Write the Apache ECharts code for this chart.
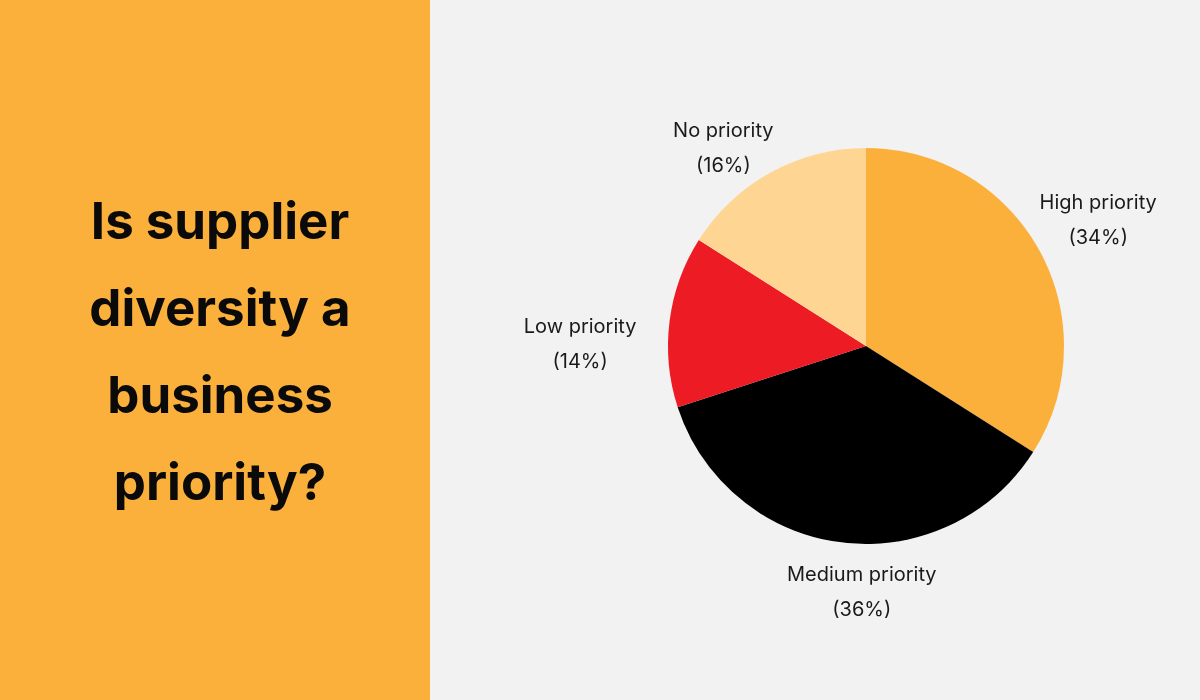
<!DOCTYPE html>
<html>
<head>
    <meta charset="utf-8">
    <title>Supplier diversity</title>
    <script src="https://cdn.jsdelivr.net/npm/echarts@6/dist/echarts.min.js"></script>
    <style>
        html, body { margin: 0; padding: 0; background: #f2f2f2; }
    </style>
</head>
<body>
<div id="main" style="width: 1200px;height:700px;"></div>
<script type="text/javascript">
    // data
    var categories = ['High priority', 'Medium priority', 'Low priority', 'No priority'];
    var shares = [34, 36, 14, 16];
    var colors = ['#fbb03b', '#000000', '#ed1c24', '#ffd594'];
    // nudges so the labels sit where the original has them
    var labelOffsets = [[0, 2], [29, -16], [-23, 32], [-15, 35]];

    var myChart = echarts.init(document.getElementById('main'));

    var pieData = [];
    var labelData = [];
    for (var i = 0; i < categories.length; i++) {
        pieData.push({
            name: categories[i],
            value: shares[i],
            itemStyle: { color: colors[i] }
        });
        labelData.push({
            name: categories[i],
            value: shares[i],
            label: { offset: labelOffsets[i] }
        });
    }

    var option = {
        backgroundColor: '#f2f2f2',
        animation: false,
        graphic: [{
            type: 'rect',
            left: 0,
            top: 0,
            z: -1,
            shape: { width: 430, height: 700 },
            style: { fill: '#fbb03b' }
        }],
        title: {
            text: 'Is supplier\ndiversity a\nbusiness\npriority?',
            left: 215,
            top: 175,
            textAlign: 'center',
            textStyle: {
                fontFamily: 'Inter',
                fontWeight: 'bold',
                fontSize: 51,
                lineHeight: 87,
                color: '#0a0a0a'
            }
        },
        series: [{
            name: 'priority',
            type: 'pie',
            center: [866, 346],
            radius: 198,
            startAngle: 90,
            clockwise: true,
            label: { show: false },
            labelLine: { show: false },
            emphasis: { disabled: true },
            data: pieData
        }, {
            // transparent ring, only carries the labels
            name: 'labels',
            type: 'pie',
            center: [866, 346],
            radius: [250, 274],
            startAngle: 90,
            clockwise: true,
            silent: true,
            itemStyle: { color: 'rgba(0,0,0,0)' },
            label: {
                show: true,
                position: 'inside',
                formatter: '{b}\n({c}%)',
                fontFamily: 'Inter',
                fontSize: 20,
                lineHeight: 35,
                color: '#1a1a1a'
            },
            labelLine: { show: false },
            emphasis: { disabled: true },
            data: labelData
        }]
    };

    myChart.setOption(option);
</script>
</body>
</html>
